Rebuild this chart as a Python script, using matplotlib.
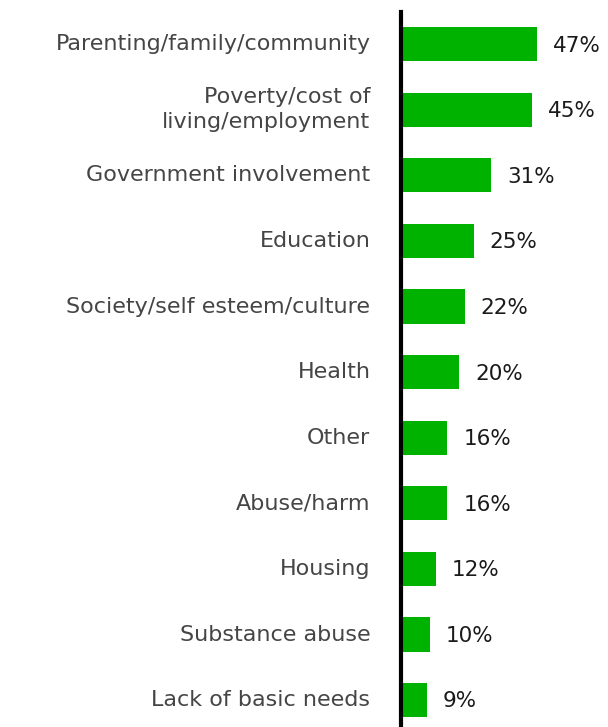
import matplotlib
matplotlib.use("Agg")
import matplotlib.pyplot as plt

categories = [
    "Parenting/family/community",
    "Poverty/cost of\nliving/employment",
    "Government involvement",
    "Education",
    "Society/self esteem/culture",
    "Health",
    "Other",
    "Abuse/harm",
    "Housing",
    "Substance abuse",
    "Lack of basic needs",
]
values = [47, 45, 31, 25, 22, 20, 16, 16, 12, 10, 9]

BAR_GREEN = "#00b200"
LABEL_GREY = "#454545"

plt.rcParams["font.family"] = ["DejaVu Sans"]

fig = plt.figure(figsize=(6.08, 7.27), dpi=100)
ax = fig.add_axes([401 / 608, 0.0, 207 / 608, 715 / 727])

ypos = list(range(len(categories)))
ax.barh(ypos, values, height=0.52, color=BAR_GREEN, linewidth=0)

for y, v in zip(ypos, values):
    ax.annotate(f"{v}%", xy=(v, y), xytext=(11.5, -1), textcoords="offset points",
                ha="left", va="center", fontsize=15.5, color="#1a1a1a")

ax.set_xlim(0, 207 / 2.9)
ax.set_ylim(len(categories) - 1 + 0.41, -0.49)

ax.set_yticks(ypos)
ax.set_yticklabels(categories, fontsize=16, color=LABEL_GREY, ha="right",
                   linespacing=1.3, va="center")
for lbl in ax.get_yticklabels():
    lbl.set_y(lbl.get_position()[1])
ax.tick_params(axis="y", length=0, pad=22)
ax.set_xticks([])

for side in ("top", "right", "bottom"):
    ax.spines[side].set_visible(False)
ax.spines["left"].set_linewidth(3)
ax.spines["left"].set_color("black")

fig.savefig("out.png", dpi=100)
